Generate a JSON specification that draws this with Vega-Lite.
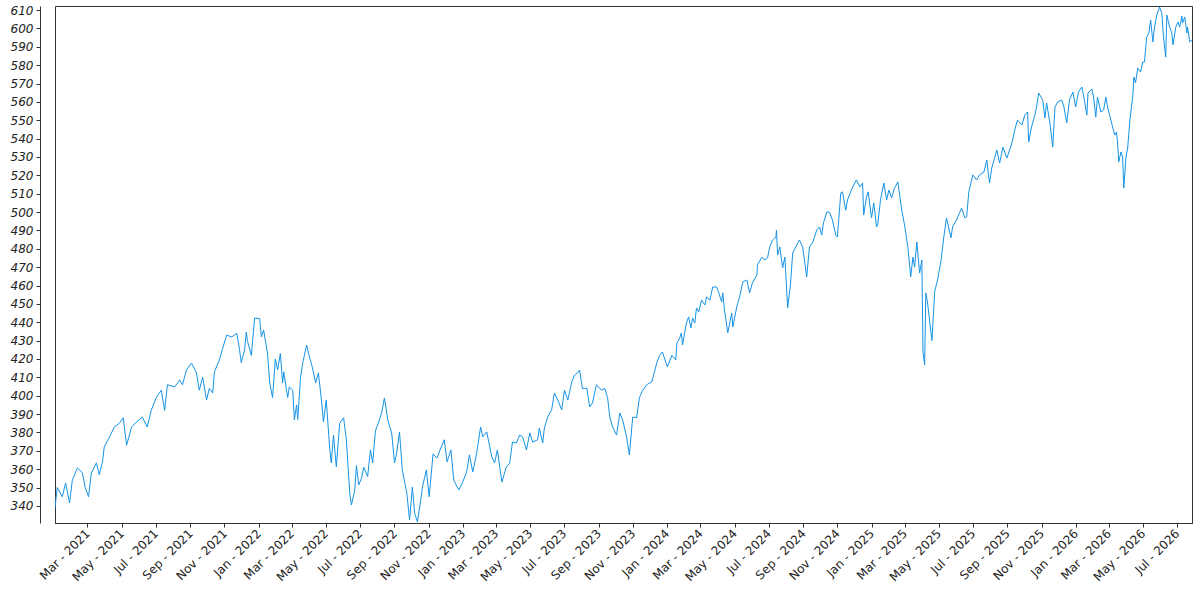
{
  "$schema": "https://vega.github.io/schema/vega-lite/v6.json",
  "width": 1137,
  "height": 517,
  "autosize": {"type": "none"},
  "padding": {"left": 55, "top": 6, "right": 8, "bottom": 77},
  "background": "white",
  "data": {
    "values": [
      {"date": "2021-01-02", "close": 339},
      {"date": "2021-01-06", "close": 350},
      {"date": "2021-01-15", "close": 345},
      {"date": "2021-01-21", "close": 352.5},
      {"date": "2021-01-28", "close": 341.6},
      {"date": "2021-02-02", "close": 354},
      {"date": "2021-02-11", "close": 360.7},
      {"date": "2021-02-20", "close": 358},
      {"date": "2021-02-25", "close": 350},
      {"date": "2021-03-03", "close": 345},
      {"date": "2021-03-08", "close": 358},
      {"date": "2021-03-17", "close": 363.4},
      {"date": "2021-03-22", "close": 357},
      {"date": "2021-03-28", "close": 364},
      {"date": "2021-03-31", "close": 372},
      {"date": "2021-04-13", "close": 379.7},
      {"date": "2021-04-18", "close": 383},
      {"date": "2021-04-27", "close": 385},
      {"date": "2021-05-04", "close": 388},
      {"date": "2021-05-10", "close": 373},
      {"date": "2021-05-19", "close": 383},
      {"date": "2021-05-28", "close": 385.7},
      {"date": "2021-06-07", "close": 388.4},
      {"date": "2021-06-16", "close": 383},
      {"date": "2021-06-23", "close": 392},
      {"date": "2021-07-02", "close": 399},
      {"date": "2021-07-11", "close": 403},
      {"date": "2021-07-17", "close": 392},
      {"date": "2021-07-22", "close": 406},
      {"date": "2021-08-04", "close": 404.8},
      {"date": "2021-08-13", "close": 408.6},
      {"date": "2021-08-18", "close": 406},
      {"date": "2021-08-25", "close": 414},
      {"date": "2021-09-03", "close": 417.8},
      {"date": "2021-09-12", "close": 412.4},
      {"date": "2021-09-17", "close": 403},
      {"date": "2021-09-23", "close": 410},
      {"date": "2021-09-30", "close": 397.7},
      {"date": "2021-10-05", "close": 404},
      {"date": "2021-10-11", "close": 401.5},
      {"date": "2021-10-14", "close": 413},
      {"date": "2021-10-23", "close": 419.5},
      {"date": "2021-10-28", "close": 425},
      {"date": "2021-11-05", "close": 433},
      {"date": "2021-11-14", "close": 432},
      {"date": "2021-11-23", "close": 434},
      {"date": "2021-11-28", "close": 425},
      {"date": "2021-12-01", "close": 418},
      {"date": "2021-12-07", "close": 425},
      {"date": "2021-12-10", "close": 434.7},
      {"date": "2021-12-12", "close": 430},
      {"date": "2021-12-19", "close": 422},
      {"date": "2021-12-25", "close": 442.3},
      {"date": "2022-01-03", "close": 442},
      {"date": "2022-01-06", "close": 432},
      {"date": "2022-01-10", "close": 435.8},
      {"date": "2022-01-17", "close": 423},
      {"date": "2022-01-21", "close": 407},
      {"date": "2022-01-26", "close": 399},
      {"date": "2022-01-31", "close": 420},
      {"date": "2022-02-04", "close": 414},
      {"date": "2022-02-09", "close": 423},
      {"date": "2022-02-13", "close": 407},
      {"date": "2022-02-15", "close": 413},
      {"date": "2022-02-22", "close": 399},
      {"date": "2022-02-25", "close": 404.8},
      {"date": "2022-03-03", "close": 403},
      {"date": "2022-03-06", "close": 386.8},
      {"date": "2022-03-10", "close": 395},
      {"date": "2022-03-12", "close": 387},
      {"date": "2022-03-17", "close": 410},
      {"date": "2022-03-21", "close": 418},
      {"date": "2022-03-28", "close": 427.6},
      {"date": "2022-04-02", "close": 421},
      {"date": "2022-04-07", "close": 415.7},
      {"date": "2022-04-13", "close": 407},
      {"date": "2022-04-18", "close": 412.4},
      {"date": "2022-04-24", "close": 396},
      {"date": "2022-04-27", "close": 385.7},
      {"date": "2022-05-02", "close": 397.7},
      {"date": "2022-05-08", "close": 372},
      {"date": "2022-05-11", "close": 363.4},
      {"date": "2022-05-15", "close": 378.6},
      {"date": "2022-05-20", "close": 361.2},
      {"date": "2022-05-26", "close": 385},
      {"date": "2022-06-02", "close": 388},
      {"date": "2022-06-07", "close": 376},
      {"date": "2022-06-13", "close": 347},
      {"date": "2022-06-16", "close": 340.5},
      {"date": "2022-06-22", "close": 348.7},
      {"date": "2022-06-25", "close": 362},
      {"date": "2022-06-29", "close": 351.4},
      {"date": "2022-07-04", "close": 355},
      {"date": "2022-07-08", "close": 361},
      {"date": "2022-07-15", "close": 356},
      {"date": "2022-07-20", "close": 370.5},
      {"date": "2022-07-24", "close": 363.4},
      {"date": "2022-07-29", "close": 381},
      {"date": "2022-08-03", "close": 385},
      {"date": "2022-08-09", "close": 390.6},
      {"date": "2022-08-14", "close": 398.8},
      {"date": "2022-08-20", "close": 386.8},
      {"date": "2022-08-27", "close": 379.7},
      {"date": "2022-09-01", "close": 363.4},
      {"date": "2022-09-05", "close": 368.8},
      {"date": "2022-09-10", "close": 380.3},
      {"date": "2022-09-15", "close": 359.6},
      {"date": "2022-09-23", "close": 347},
      {"date": "2022-09-28", "close": 332.4},
      {"date": "2022-10-03", "close": 350.3},
      {"date": "2022-10-07", "close": 336.2},
      {"date": "2022-10-12", "close": 331.3},
      {"date": "2022-10-18", "close": 343.3},
      {"date": "2022-10-21", "close": 350.3},
      {"date": "2022-10-28", "close": 359.6},
      {"date": "2022-11-02", "close": 345},
      {"date": "2022-11-09", "close": 368.3},
      {"date": "2022-11-16", "close": 366},
      {"date": "2022-11-23", "close": 371.6},
      {"date": "2022-11-29", "close": 376},
      {"date": "2022-12-04", "close": 364},
      {"date": "2022-12-11", "close": 370.5},
      {"date": "2022-12-16", "close": 354},
      {"date": "2022-12-25", "close": 348.7},
      {"date": "2023-01-01", "close": 353},
      {"date": "2023-01-08", "close": 358.5},
      {"date": "2023-01-13", "close": 367.8},
      {"date": "2023-01-19", "close": 358.5},
      {"date": "2023-01-26", "close": 368.8},
      {"date": "2023-02-02", "close": 383},
      {"date": "2023-02-06", "close": 377.6},
      {"date": "2023-02-13", "close": 380.3},
      {"date": "2023-02-22", "close": 366.7},
      {"date": "2023-02-27", "close": 363.4},
      {"date": "2023-03-04", "close": 370.5},
      {"date": "2023-03-12", "close": 353},
      {"date": "2023-03-20", "close": 361.2},
      {"date": "2023-03-26", "close": 363.4},
      {"date": "2023-03-31", "close": 374.8},
      {"date": "2023-04-07", "close": 374.3},
      {"date": "2023-04-13", "close": 378.6},
      {"date": "2023-04-18", "close": 377.6},
      {"date": "2023-04-25", "close": 370.5},
      {"date": "2023-05-01", "close": 379.7},
      {"date": "2023-05-06", "close": 374.8},
      {"date": "2023-05-15", "close": 376},
      {"date": "2023-05-18", "close": 382.4},
      {"date": "2023-05-24", "close": 374.3},
      {"date": "2023-05-27", "close": 382.4},
      {"date": "2023-06-02", "close": 388.4},
      {"date": "2023-06-09", "close": 392.3},
      {"date": "2023-06-14", "close": 401.5},
      {"date": "2023-06-20", "close": 397.7},
      {"date": "2023-06-27", "close": 392.3},
      {"date": "2023-07-02", "close": 403},
      {"date": "2023-07-08", "close": 397.7},
      {"date": "2023-07-15", "close": 407.5},
      {"date": "2023-07-20", "close": 411.3},
      {"date": "2023-07-25", "close": 412.4},
      {"date": "2023-07-29", "close": 414},
      {"date": "2023-08-03", "close": 404},
      {"date": "2023-08-11", "close": 404},
      {"date": "2023-08-16", "close": 393.9},
      {"date": "2023-08-21", "close": 396},
      {"date": "2023-08-28", "close": 406},
      {"date": "2023-09-06", "close": 403},
      {"date": "2023-09-12", "close": 404},
      {"date": "2023-09-17", "close": 399},
      {"date": "2023-09-21", "close": 388.4},
      {"date": "2023-09-26", "close": 383},
      {"date": "2023-10-03", "close": 378.6},
      {"date": "2023-10-09", "close": 390.6},
      {"date": "2023-10-14", "close": 386.8},
      {"date": "2023-10-21", "close": 377.6},
      {"date": "2023-10-26", "close": 367.8},
      {"date": "2023-11-01", "close": 388.4},
      {"date": "2023-11-08", "close": 388},
      {"date": "2023-11-13", "close": 399},
      {"date": "2023-11-19", "close": 403},
      {"date": "2023-11-26", "close": 406},
      {"date": "2023-12-05", "close": 407.5},
      {"date": "2023-12-14", "close": 417.8},
      {"date": "2023-12-19", "close": 422},
      {"date": "2023-12-24", "close": 423.8},
      {"date": "2024-01-02", "close": 415.7},
      {"date": "2024-01-10", "close": 422},
      {"date": "2024-01-17", "close": 419.5},
      {"date": "2024-01-19", "close": 428.7},
      {"date": "2024-01-24", "close": 431.4},
      {"date": "2024-01-27", "close": 434.2},
      {"date": "2024-01-29", "close": 427.6},
      {"date": "2024-02-05", "close": 439.6},
      {"date": "2024-02-09", "close": 442.9},
      {"date": "2024-02-13", "close": 436.9},
      {"date": "2024-02-16", "close": 442.3},
      {"date": "2024-02-20", "close": 439.6},
      {"date": "2024-02-23", "close": 447.8},
      {"date": "2024-02-27", "close": 445.6},
      {"date": "2024-03-03", "close": 452.1},
      {"date": "2024-03-09", "close": 449.4},
      {"date": "2024-03-12", "close": 453.8},
      {"date": "2024-03-18", "close": 452},
      {"date": "2024-03-23", "close": 459.2},
      {"date": "2024-03-30", "close": 459.2},
      {"date": "2024-04-03", "close": 456},
      {"date": "2024-04-08", "close": 451},
      {"date": "2024-04-10", "close": 456},
      {"date": "2024-04-13", "close": 446.7},
      {"date": "2024-04-19", "close": 434.2},
      {"date": "2024-04-26", "close": 445},
      {"date": "2024-04-28", "close": 437.4},
      {"date": "2024-05-05", "close": 448.3},
      {"date": "2024-05-10", "close": 453.8},
      {"date": "2024-05-16", "close": 462},
      {"date": "2024-05-23", "close": 463},
      {"date": "2024-05-28", "close": 456},
      {"date": "2024-06-02", "close": 461.4},
      {"date": "2024-06-10", "close": 465.7},
      {"date": "2024-06-11", "close": 471.2},
      {"date": "2024-06-19", "close": 475.5},
      {"date": "2024-06-24", "close": 473.9},
      {"date": "2024-06-29", "close": 475},
      {"date": "2024-07-03", "close": 481},
      {"date": "2024-07-08", "close": 484.8},
      {"date": "2024-07-14", "close": 486.4},
      {"date": "2024-07-15", "close": 490.2},
      {"date": "2024-07-17", "close": 476.6},
      {"date": "2024-07-21", "close": 481},
      {"date": "2024-07-26", "close": 469.6},
      {"date": "2024-07-30", "close": 475.5},
      {"date": "2024-08-02", "close": 459.2},
      {"date": "2024-08-04", "close": 447.8},
      {"date": "2024-08-09", "close": 460.3},
      {"date": "2024-08-13", "close": 477.7},
      {"date": "2024-08-20", "close": 482},
      {"date": "2024-08-25", "close": 484.8},
      {"date": "2024-08-31", "close": 481},
      {"date": "2024-09-07", "close": 464.7},
      {"date": "2024-09-12", "close": 481},
      {"date": "2024-09-18", "close": 483.7},
      {"date": "2024-09-25", "close": 490.2},
      {"date": "2024-09-30", "close": 491.9},
      {"date": "2024-10-04", "close": 487.5},
      {"date": "2024-10-07", "close": 494},
      {"date": "2024-10-13", "close": 500},
      {"date": "2024-10-18", "close": 500},
      {"date": "2024-10-23", "close": 495.7},
      {"date": "2024-10-29", "close": 487.5},
      {"date": "2024-11-01", "close": 486.4},
      {"date": "2024-11-07", "close": 510.4},
      {"date": "2024-11-10", "close": 511},
      {"date": "2024-11-16", "close": 501},
      {"date": "2024-11-19", "close": 506.6},
      {"date": "2024-11-26", "close": 512},
      {"date": "2024-12-02", "close": 515.8},
      {"date": "2024-12-05", "close": 517.5},
      {"date": "2024-12-11", "close": 513.7},
      {"date": "2024-12-16", "close": 515.8},
      {"date": "2024-12-18", "close": 498.4},
      {"date": "2024-12-23", "close": 508.2},
      {"date": "2024-12-26", "close": 511},
      {"date": "2025-01-01", "close": 496.8},
      {"date": "2025-01-05", "close": 505},
      {"date": "2025-01-10", "close": 491.9},
      {"date": "2025-01-12", "close": 493},
      {"date": "2025-01-17", "close": 506.6},
      {"date": "2025-01-23", "close": 515.8},
      {"date": "2025-01-28", "close": 506.6},
      {"date": "2025-02-01", "close": 512},
      {"date": "2025-02-06", "close": 507.7},
      {"date": "2025-02-11", "close": 513},
      {"date": "2025-02-17", "close": 516.4},
      {"date": "2025-02-24", "close": 501.1},
      {"date": "2025-03-01", "close": 493},
      {"date": "2025-03-07", "close": 481},
      {"date": "2025-03-12", "close": 464.7},
      {"date": "2025-03-16", "close": 475.5},
      {"date": "2025-03-19", "close": 470},
      {"date": "2025-03-23", "close": 483.7},
      {"date": "2025-03-28", "close": 466.8},
      {"date": "2025-04-01", "close": 473.9},
      {"date": "2025-04-03", "close": 423.8},
      {"date": "2025-04-06", "close": 416.7},
      {"date": "2025-04-08", "close": 456},
      {"date": "2025-04-11", "close": 451},
      {"date": "2025-04-19", "close": 430},
      {"date": "2025-04-24", "close": 457},
      {"date": "2025-04-29", "close": 463},
      {"date": "2025-05-05", "close": 473},
      {"date": "2025-05-10", "close": 485.9},
      {"date": "2025-05-15", "close": 496.8},
      {"date": "2025-05-23", "close": 486},
      {"date": "2025-05-26", "close": 492},
      {"date": "2025-06-02", "close": 495.7},
      {"date": "2025-06-11", "close": 502.2},
      {"date": "2025-06-17", "close": 496.8},
      {"date": "2025-06-20", "close": 497.3},
      {"date": "2025-06-24", "close": 511},
      {"date": "2025-07-01", "close": 520.2},
      {"date": "2025-07-08", "close": 517.5},
      {"date": "2025-07-13", "close": 520.2},
      {"date": "2025-07-21", "close": 521.8},
      {"date": "2025-07-26", "close": 528.3},
      {"date": "2025-07-31", "close": 515.8},
      {"date": "2025-08-04", "close": 524},
      {"date": "2025-08-13", "close": 533.8},
      {"date": "2025-08-18", "close": 526.7},
      {"date": "2025-08-24", "close": 535.4},
      {"date": "2025-08-31", "close": 529.4},
      {"date": "2025-09-09", "close": 537.6},
      {"date": "2025-09-14", "close": 544.7},
      {"date": "2025-09-19", "close": 550.1},
      {"date": "2025-09-27", "close": 547.4},
      {"date": "2025-10-02", "close": 552.8},
      {"date": "2025-10-07", "close": 554.5},
      {"date": "2025-10-09", "close": 538.1},
      {"date": "2025-10-14", "close": 546.3},
      {"date": "2025-10-20", "close": 552.8},
      {"date": "2025-10-23", "close": 557.2},
      {"date": "2025-10-27", "close": 564.8},
      {"date": "2025-11-03", "close": 561},
      {"date": "2025-11-07", "close": 551.2},
      {"date": "2025-11-10", "close": 559.4},
      {"date": "2025-11-16", "close": 548.5},
      {"date": "2025-11-21", "close": 535.4},
      {"date": "2025-11-25", "close": 557.2},
      {"date": "2025-11-30", "close": 560},
      {"date": "2025-12-07", "close": 561},
      {"date": "2025-12-11", "close": 557.2},
      {"date": "2025-12-16", "close": 548.5},
      {"date": "2025-12-21", "close": 561},
      {"date": "2025-12-27", "close": 565.4},
      {"date": "2026-01-01", "close": 557.2},
      {"date": "2026-01-06", "close": 565.4},
      {"date": "2026-01-12", "close": 568.1},
      {"date": "2026-01-15", "close": 563.7},
      {"date": "2026-01-21", "close": 552.8},
      {"date": "2026-01-23", "close": 564.8},
      {"date": "2026-01-30", "close": 567},
      {"date": "2026-02-02", "close": 562.6},
      {"date": "2026-02-06", "close": 551.7},
      {"date": "2026-02-09", "close": 562.6},
      {"date": "2026-02-15", "close": 554.5},
      {"date": "2026-02-20", "close": 555.6},
      {"date": "2026-02-24", "close": 562.6},
      {"date": "2026-02-27", "close": 557.2},
      {"date": "2026-03-05", "close": 550.1},
      {"date": "2026-03-08", "close": 546.3},
      {"date": "2026-03-12", "close": 541.9},
      {"date": "2026-03-15", "close": 543.6},
      {"date": "2026-03-17", "close": 537.6},
      {"date": "2026-03-19", "close": 527.3},
      {"date": "2026-03-23", "close": 532.7},
      {"date": "2026-03-26", "close": 530},
      {"date": "2026-03-28", "close": 513.1},
      {"date": "2026-04-01", "close": 530},
      {"date": "2026-04-04", "close": 534.9},
      {"date": "2026-04-08", "close": 550.1},
      {"date": "2026-04-13", "close": 562.6},
      {"date": "2026-04-15", "close": 573.5},
      {"date": "2026-04-18", "close": 570.3},
      {"date": "2026-04-22", "close": 578.4},
      {"date": "2026-04-27", "close": 576.3},
      {"date": "2026-05-01", "close": 581.7},
      {"date": "2026-05-04", "close": 581.7},
      {"date": "2026-05-08", "close": 595.3},
      {"date": "2026-05-12", "close": 597.5},
      {"date": "2026-05-15", "close": 604.6},
      {"date": "2026-05-19", "close": 592.6},
      {"date": "2026-05-22", "close": 600.7},
      {"date": "2026-05-26", "close": 607.3},
      {"date": "2026-05-31", "close": 611.6},
      {"date": "2026-06-04", "close": 608.4},
      {"date": "2026-06-07", "close": 595.3},
      {"date": "2026-06-11", "close": 584.4},
      {"date": "2026-06-13", "close": 607.3},
      {"date": "2026-06-18", "close": 600.7},
      {"date": "2026-06-22", "close": 597.5},
      {"date": "2026-06-24", "close": 591},
      {"date": "2026-06-29", "close": 600.7},
      {"date": "2026-07-03", "close": 603.5},
      {"date": "2026-07-06", "close": 600.7},
      {"date": "2026-07-10", "close": 606.7},
      {"date": "2026-07-11", "close": 602.9},
      {"date": "2026-07-15", "close": 606.2},
      {"date": "2026-07-19", "close": 597.5},
      {"date": "2026-07-20", "close": 600.7},
      {"date": "2026-07-24", "close": 592.6},
      {"date": "2026-07-28", "close": 593.7}
    ]
  },
  "mark": {"type": "line", "color": "#1593e6", "strokeWidth": 1, "clip": true},
  "encoding": {
    "x": {
      "field": "date",
      "type": "temporal",
      "scale": {"type": "utc", "nice": false},
      "axis": {
        "title": null,
        "grid": false,
        "format": "%b - %Y",
        "labelAngle": -45,
        "labelAlign": "right",
        "labelBaseline": "middle",
        "labelPadding": 4,
        "labelOverlap": false,
        "labelFlush": false,
        "tickSize": 4,
        "values": [
          {"year": 2021, "month": 3, "date": 1, "utc": true},
          {"year": 2021, "month": 5, "date": 1, "utc": true},
          {"year": 2021, "month": 7, "date": 1, "utc": true},
          {"year": 2021, "month": 9, "date": 1, "utc": true},
          {"year": 2021, "month": 11, "date": 1, "utc": true},
          {"year": 2022, "month": 1, "date": 1, "utc": true},
          {"year": 2022, "month": 3, "date": 1, "utc": true},
          {"year": 2022, "month": 5, "date": 1, "utc": true},
          {"year": 2022, "month": 7, "date": 1, "utc": true},
          {"year": 2022, "month": 9, "date": 1, "utc": true},
          {"year": 2022, "month": 11, "date": 1, "utc": true},
          {"year": 2023, "month": 1, "date": 1, "utc": true},
          {"year": 2023, "month": 3, "date": 1, "utc": true},
          {"year": 2023, "month": 5, "date": 1, "utc": true},
          {"year": 2023, "month": 7, "date": 1, "utc": true},
          {"year": 2023, "month": 9, "date": 1, "utc": true},
          {"year": 2023, "month": 11, "date": 1, "utc": true},
          {"year": 2024, "month": 1, "date": 1, "utc": true},
          {"year": 2024, "month": 3, "date": 1, "utc": true},
          {"year": 2024, "month": 5, "date": 1, "utc": true},
          {"year": 2024, "month": 7, "date": 1, "utc": true},
          {"year": 2024, "month": 9, "date": 1, "utc": true},
          {"year": 2024, "month": 11, "date": 1, "utc": true},
          {"year": 2025, "month": 1, "date": 1, "utc": true},
          {"year": 2025, "month": 3, "date": 1, "utc": true},
          {"year": 2025, "month": 5, "date": 1, "utc": true},
          {"year": 2025, "month": 7, "date": 1, "utc": true},
          {"year": 2025, "month": 9, "date": 1, "utc": true},
          {"year": 2025, "month": 11, "date": 1, "utc": true},
          {"year": 2026, "month": 1, "date": 1, "utc": true},
          {"year": 2026, "month": 3, "date": 1, "utc": true},
          {"year": 2026, "month": 5, "date": 1, "utc": true},
          {"year": 2026, "month": 7, "date": 1, "utc": true}
        ]
      }
    },
    "y": {
      "field": "close",
      "type": "quantitative",
      "scale": {"domain": [330.7, 612.2], "nice": false, "zero": false},
      "axis": {
        "title": null,
        "grid": false,
        "offset": 15,
        "tickSize": 4,
        "labelPadding": 3,
        "labelFontStyle": "italic",
        "values": [340, 350, 360, 370, 380, 390, 400, 410, 420, 430, 440, 450, 460, 470, 480, 490, 500, 510, 520, 530, 540, 550, 560, 570, 580, 590, 600, 610]
      }
    }
  },
  "config": {
    "view": {"stroke": "#333333", "strokeWidth": 1},
    "axis": {
      "labelFont": "DejaVu Sans",
      "labelFontSize": 12,
      "labelColor": "#222222",
      "domainColor": "#333333",
      "tickColor": "#333333",
      "domainWidth": 1,
      "tickWidth": 1
    }
  }
}
